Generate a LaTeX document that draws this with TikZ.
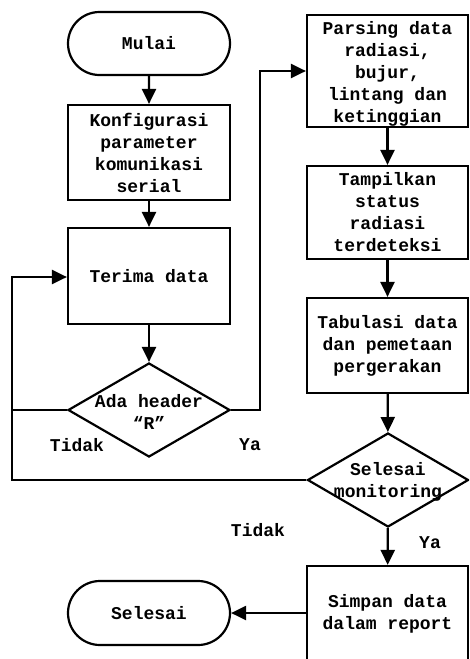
\documentclass[tikz,border=0pt]{standalone}
\usepackage{fontspec}
\setmainfont{Liberation Mono}
\usetikzlibrary{shapes.geometric,shapes.misc,arrows.meta}
\begin{document}
\begin{tikzpicture}[x=1pt,y=-1pt,
  every node/.style={font=\bfseries\fontsize{18}{22}\selectfont, align=center},
  line/.style={line width=2.2pt},
  flow/.style={line width=2.2pt,-{Triangle[length=15pt,width=14pt]}},
  procbox/.style={draw,line width=2.2pt,minimum width=162pt,inner sep=0pt},
  term/.style={draw,rounded rectangle,line width=2.2pt,minimum width=162pt,minimum height=63pt,inner sep=0pt},
  decision/.style={draw,diamond,line width=2.2pt,inner sep=0pt},
  lbl/.style={inner sep=0pt}]
\useasboundingbox (0,0) rectangle (469,659);
\clip (0,0) rectangle (469,659);
% left column
\node[term] (mulai) at (149,43.5) {Mulai};
\node[procbox,minimum height=95pt] (konf) at (149,152.5) {Konfigurasi\\parameter\\komunikasi\\serial};
\node[procbox,minimum height=96pt] (terima) at (149,276) {Terima data};
\node[decision,minimum width=162pt,minimum height=94pt] (ada) at (149,410) {};
\node[lbl] (adatext) at (149,412) {Ada header\\“R”};
% right column
\node[procbox,minimum width=161pt,minimum height=112pt] (parsing) at (387.5,71) {};
\node[lbl] (parsingtext) at (387.5,74) {Parsing data\\radiasi,\\bujur,\\lintang dan\\ketinggian};
\node[procbox,minimum width=161pt,minimum height=93pt] (tampil) at (387.5,212.5) {Tampilkan\\status\\radiasi\\terdeteksi};
\node[procbox,minimum width=161pt,minimum height=95pt] (tabul) at (387.5,345.5) {Tabulasi data\\dan pemetaan\\pergerakan};
\node[decision,minimum width=161pt,minimum height=94pt] (sm) at (388,480) {};
\node[lbl] (smtext) at (388,482) {Selesai\\monitoring};
\node[procbox,minimum width=161pt,minimum height=96pt] (simpan) at (387.5,614) {Simpan data\\dalam report};
\node[term,minimum height=64pt] (selesai) at (149,613) {Selesai};
% coordinates
\coordinate (loopx) at (12,480);
\coordinate (loopy) at (12,277);
\coordinate (adaL) at (12,410);
\coordinate (adaR) at (260,410);
% connectors
\draw[flow] (mulai) -- (konf);
\draw[flow] (konf) -- (terima);
\draw[flow] (terima) -- (ada);
\draw[flow] (ada.east) -- (adaR) |- (parsing.west);
\draw[line] (ada.west) -- (adaL);
\draw[flow] (sm.west) -- (loopx) -- (loopy) -- (terima.west |- loopy);
\draw[flow] (parsing) -- (tampil);
\draw[flow] (tampil) -- (tabul);
\draw[flow] (tabul) -- (sm);
\draw[flow] (sm) -- (simpan);
\draw[flow] (simpan.west |- selesai) -- (selesai.east);
% labels
\node[lbl] at (77,445) {Tidak};
\node[lbl] at (250,445) {Ya};
\node[lbl] at (258,530) {Tidak};
\node[lbl] at (430,543) {Ya};
\end{tikzpicture}
\end{document}
